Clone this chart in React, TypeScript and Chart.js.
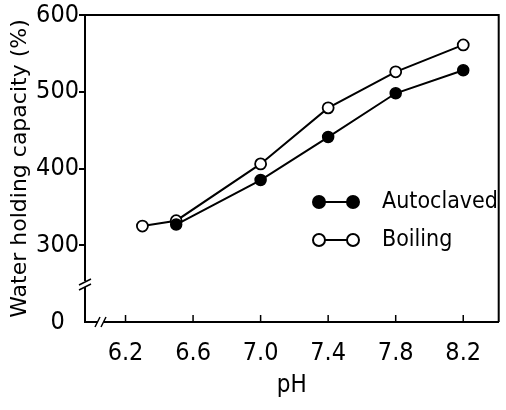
import React, { useEffect, useRef } from "react";
import { Chart, registerables } from "chart.js";

Chart.register(...registerables);

const xTicks = [6.2, 6.6, 7.0, 7.4, 7.8, 8.2];
const yTicks = [200, 300, 400, 500, 600];
const yTickLabels = ["0  ", "300", "400", "500", "600"];

const autoclavedPH = [6.5, 7.0, 7.4, 7.8, 8.2];
const autoclavedWHC = [327, 385, 441, 498, 528];

const boilingPH = [6.3, 6.5, 7.0, 7.4, 7.8, 8.2];
const boilingWHC = [325, 332, 406, 479, 526, 561];

const legendLabels = ["Autoclaved", "Boiling"];

const FONT = "'DejaVu Sans Condensed', 'DejaVu Sans', sans-serif";

const decorPlugin = {
  id: "decor",
  afterDatasetsDraw(chart: any) {
    const { ctx, chartArea } = chart;
    const { left, right, top, bottom } = chartArea;
    const xs = chart.scales.x;
    ctx.save();
    ctx.strokeStyle = "#000";
    ctx.lineWidth = 2;
    // frame top & right
    ctx.beginPath();
    ctx.moveTo(left, top);
    ctx.lineTo(right, top);
    ctx.lineTo(right, bottom);
    ctx.stroke();
    // inward x ticks
    ctx.lineWidth = 1.5;
    xTicks.forEach((v) => {
      const px = xs.getPixelForValue(v);
      ctx.beginPath();
      ctx.moveTo(px, bottom);
      ctx.lineTo(px, bottom - 7);
      ctx.stroke();
    });
    // y-axis break
    const by = bottom - 38;
    ctx.fillStyle = "#fff";
    ctx.fillRect(left - 4, by - 3, 8, 6);
    ctx.lineWidth = 1.5;
    ctx.beginPath();
    ctx.moveTo(left - 6, by + 1);
    ctx.lineTo(left + 6, by - 5);
    ctx.moveTo(left - 6, by + 6);
    ctx.lineTo(left + 6, by);
    ctx.stroke();
    // x-axis break
    const bx = left + 16;
    ctx.fillStyle = "#fff";
    ctx.fillRect(bx - 3, bottom - 3, 6, 6);
    ctx.beginPath();
    ctx.moveTo(bx - 6, bottom + 5);
    ctx.lineTo(bx - 1, bottom - 5);
    ctx.moveTo(bx, bottom + 5);
    ctx.lineTo(bx + 5, bottom - 5);
    ctx.stroke();
    // legend
    const lx1 = left + 234;
    const lx2 = left + 268;
    const tx = left + 297;
    const rows = [top + 187, top + 225];
    ctx.font = `23px ${FONT}`;
    ctx.textBaseline = "middle";
    ctx.textAlign = "left";
    rows.forEach((ry, i) => {
      ctx.lineWidth = 2;
      ctx.strokeStyle = "#000";
      ctx.beginPath();
      ctx.moveTo(lx1, ry);
      ctx.lineTo(lx2, ry);
      ctx.stroke();
      [lx1, lx2].forEach((cx) => {
        ctx.beginPath();
        ctx.arc(cx, ry, 6, 0, Math.PI * 2);
        ctx.fillStyle = i === 0 ? "#000" : "#fff";
        ctx.fill();
        ctx.stroke();
      });
      ctx.fillStyle = "#000";
      ctx.fillText(legendLabels[i], tx, ry);
    });
    ctx.restore();
  },
};

export default function App() {
  const ref = useRef<HTMLCanvasElement | null>(null);
  useEffect(() => {
    document.body.style.margin = "0";
    const canvas = ref.current!;
    const chart = new Chart(canvas, {
      type: "scatter",
      data: {
        datasets: [
          {
            label: legendLabels[0],
            data: autoclavedPH.map((x, i) => ({ x, y: autoclavedWHC[i] })),
            showLine: true,
            borderColor: "#000",
            borderWidth: 2,
            pointRadius: 5.5,
            pointBackgroundColor: "#000",
            pointBorderColor: "#000",
            pointBorderWidth: 1.5,
          },
          {
            label: legendLabels[1],
            data: boilingPH.map((x, i) => ({ x, y: boilingWHC[i] })),
            showLine: true,
            borderColor: "#000",
            borderWidth: 2,
            pointRadius: 5.5,
            pointBackgroundColor: "#fff",
            pointBorderColor: "#000",
            pointBorderWidth: 1.8,
          },
        ],
      },
      options: {
        animation: false,
        responsive: false,
        devicePixelRatio: 1,
        layout: { padding: { left: 0, right: 6, top: 13, bottom: 0 } },
        plugins: { legend: { display: false }, tooltip: { enabled: false } },
        scales: {
          x: {
            type: "linear",
            min: 5.96,
            max: 8.41,
            afterBuildTicks: (s: any) => {
              s.ticks = xTicks.map((v) => ({ value: v }));
            },
            afterFit: (s: any) => {
              s.height = 88;
            },
            grid: { display: true, drawOnChartArea: false, drawTicks: false, color: "#000" },
            border: { display: true, color: "#000", width: 2 },
            ticks: {
              color: "#000",
              padding: 16,
              maxRotation: 0,
              font: { family: FONT, size: 25 },
              callback: (v: any) => Number(v).toFixed(1),
            },
            title: {
              display: true,
              text: "pH",
              color: "#000",
              font: { family: FONT, size: 24 },
              padding: { top: 0, bottom: 10 },
            },
          },
          y: {
            type: "linear",
            min: 200,
            max: 600,
            afterBuildTicks: (s: any) => {
              s.ticks = yTicks.map((v) => ({ value: v }));
            },
            afterFit: (s: any) => {
              s.width = 85;
            },
            grid: {
              drawOnChartArea: false,
              drawTicks: true,
              tickLength: 6,
              lineWidth: 2,
              color: (c: any) => (c.tick && c.tick.value === 200 ? "rgba(0,0,0,0)" : "#000"),
            },
            border: { display: true, color: "#000", width: 2 },
            ticks: {
              color: "#000",
              padding: 0,
              font: { family: FONT, size: 25 },
              callback: (v: any) => {
                const i = yTicks.indexOf(Number(v));
                return i >= 0 ? yTickLabels[i] : "";
              },
            },
            title: {
              display: true,
              text: "Water holding capacity (%)",
              color: "#000",
              font: { family: "'DejaVu Sans', sans-serif", size: 22 },
              padding: { top: 7, bottom: 0 },
            },
          },
        },
      },
      plugins: [decorPlugin],
    });
    return () => chart.destroy();
  }, []);
  return (
    <div style={{ position: "absolute", left: 0, top: 0, width: 506, height: 410, background: "#fff" }}>
      <canvas ref={ref} width={506} height={410} />
    </div>
  );
}
